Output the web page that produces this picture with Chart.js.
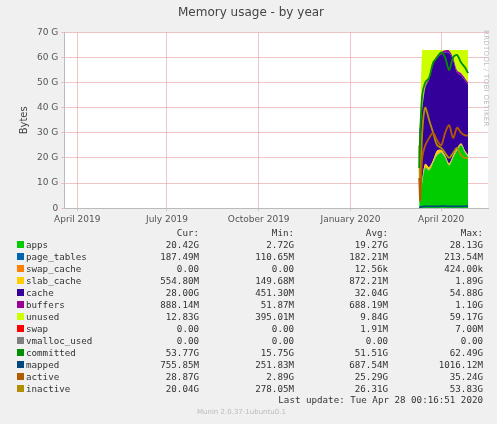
<!DOCTYPE html><html><head><meta charset="utf-8">
<script src="https://cdn.jsdelivr.net/npm/chart.js@4"></script>
<style>
body{margin:0;background:#f0f0f0;width:497px;height:424px;overflow:hidden;font-family:"DejaVu Sans Mono",monospace;}
#wrap{position:absolute;left:0;top:0;width:497px;height:228px;}
#side{position:absolute;left:482px;top:30px;writing-mode:vertical-rl;font-family:"DejaVu Sans";font-size:7px;color:#bbb;letter-spacing:0.3px}
table{position:absolute;left:12px;top:227px;border-collapse:collapse;font-size:9.2px;color:#333;table-layout:fixed}
td{padding:0;height:12px;line-height:12px;white-space:pre;text-align:right;overflow:visible}
td.n{text-align:left;padding-left:2px}
.sw{display:inline-block;width:7px;height:7px;}
#upd{position:absolute;right:14px;top:394px;font-size:9.2px;color:#333;white-space:pre}
#ver{position:absolute;left:197px;top:408px;font-family:"DejaVu Sans";font-size:7px;color:#bbb}
</style></head><body>
<div id="wrap"><canvas id="c" width="497" height="228"></canvas></div>
<div id="side">RRDTOOL / TOBI OETIKER</div>
<table id="leg"><colgroup><col style="width:12px"><col style="width:90px"><col style="width:85px"><col style="width:95px"><col style="width:94px"><col style="width:95px"></colgroup></table>
<div id="upd">Last update: Tue Apr 28 00:16:51 2020</div>
<div id="ver">Munin 2.0.37-1ubuntu0.1</div>
<script>
// days relative to 2020-04-01
const days = [-22,-21,-19,-16,-12,-8,-4,0,4,8,12,16,20,24,27];
const apps =        [3,6,10,16,15,18,21,22,20,17,20,23,25,22,20.4];
const pageTables =  [0.15,0.15,0.17,0.18,0.18,0.19,0.19,0.2,0.2,0.19,0.19,0.19,0.19,0.19,0.19];
const swapCache =   [0,0,0,0,0,0,0,0,0,0,0,0,0,0,0];
const slabCache =   [0.3,0.5,1.2,1.5,1.2,1.0,1.8,1.0,0.8,0.7,0.8,0.7,0.6,0.6,0.55];
const cache =       [28,26,28,30,35,38,37,38,41,44,38,30,27,28,28];
const buffers =     [0.1,0.2,0.5,0.7,0.8,0.8,0.8,0.9,0.9,0.9,0.9,0.9,0.9,0.9,0.89];
const unused =      [1,2,23,14.6,10.8,5,2.2,0.9,0.1,0.2,3.1,8.2,9.3,11.3,13];
const swap =        [0,0,0,0,0,0,0,0,0,0,0,0,0,0,0];
const committed =   [16,30,45,50,52,58,60,62,60,55,60,61,58,56,53.8];
const mapped =      [0.3,0.4,0.6,0.7,0.7,0.7,0.7,0.8,0.8,0.7,0.7,0.7,0.7,0.8,0.76];
const active =      [12,3,20,25,28,30,27,25,30,33,28,32,30,29,28.9];
const inactive =    [25,8,30,40,35,30,25,24,22,20,22,24,21,20,20];
const yTicks = [0,10,20,30,40,50,60,70];
const monthTicks = [{d:-365,l:"April 2019"},{d:-275,l:"July 2019"},{d:-183,l:"October 2019"},{d:-91,l:"January 2020"},{d:0,l:"April 2020"}];
const legendRows = [
 ["apps","#00cc00","20.42G","2.72G","19.27G","28.13G"],
 ["page_tables","#0066b3","187.49M","110.65M","182.21M","213.54M"],
 ["swap_cache","#ff8000","0.00","0.00","12.56k","424.00k"],
 ["slab_cache","#ffcc00","554.80M","149.68M","872.21M","1.89G"],
 ["cache","#330099","28.00G","451.30M","32.04G","54.88G"],
 ["buffers","#990099","888.14M","51.87M","688.19M","1.10G"],
 ["unused","#ccff00","12.83G","395.01M","9.84G","59.17G"],
 ["swap","#ff0000","0.00","0.00","1.91M","7.00M"],
 ["vmalloc_used","#808080","0.00","0.00","0.00","0.00"],
 ["committed","#008f00","53.77G","15.75G","51.51G","62.49G"],
 ["mapped","#00487d","755.85M","251.83M","687.54M","1016.12M"],
 ["active","#b35a00","28.87G","2.89G","25.29G","35.24G"],
 ["inactive","#b38f00","20.04G","278.05M","26.31G","53.83G"]];
let h='<tr><td></td><td></td><td>Cur:</td><td>Min:</td><td>Avg:</td><td>Max:</td></tr>';
for(const r of legendRows){h+=`<tr><td><span class="sw" style="background:${r[1]}"></span></td><td class="n">${r[0]}</td><td>${r[2]}</td><td>${r[3]}</td><td>${r[4]}</td><td>${r[5]}</td></tr>`;}
document.getElementById('leg').insertAdjacentHTML('beforeend',h);

const pts=a=>days.map((d,i)=>({x:d,y:a[i]}));
const area=(lab,col,a,first)=>({label:lab,data:pts(a),backgroundColor:col,borderColor:col,borderWidth:0,pointRadius:0,fill:first?'origin':'-1',stack:'s',tension:0.3,order:2});
const line=(lab,col,a)=>({label:lab,data:pts(a),borderColor:col,backgroundColor:col,borderWidth:1.8,pointRadius:0,fill:false,yAxisID:'y2',tension:0.3,order:1});
const ds=[area('apps','#00cc00',apps,true),area('page_tables','#0066b3',pageTables),area('swap_cache','#ff8000',swapCache),area('slab_cache','#ffcc00',slabCache),area('cache','#330099',cache),area('buffers','#990099',buffers),area('unused','#ccff00',unused),area('swap','#ff0000',swap),
line('committed','#008f00',committed),line('mapped','#00487d',mapped),line('active','#b35a00',active),line('inactive','#b38f00',inactive)];
const bg={id:'bg',beforeDraw(c){const a=c.chartArea,x=c.ctx;x.save();x.fillStyle='#fff';x.fillRect(a.left,a.top,a.right-a.left,a.bottom-a.top);x.restore();}};
const gridC='rgba(230,150,150,0.55)';
new Chart(document.getElementById('c'),{type:'line',data:{datasets:ds},plugins:[bg],
options:{responsive:false,animation:false,layout:{padding:{top:0,right:9,left:14,bottom:0}},
plugins:{legend:{display:false},tooltip:{enabled:false},title:{display:true,text:'Memory usage - by year',color:'#444',font:{family:'DejaVu Sans',size:12,weight:'normal'},padding:{top:6,bottom:12}}},
scales:{
x:{type:'linear',min:-378,max:47,afterBuildTicks(s){s.ticks=monthTicks.map(m=>({value:m.d}));},
 ticks:{autoSkip:false,maxRotation:0,color:'#555',font:{family:'DejaVu Sans',size:9},callback:(v)=>{const m=monthTicks.find(t=>t.d===v);return m?m.l:'';}},
 grid:{color:gridC,tickLength:3},border:{color:'#bbb'}},
y:{stacked:true,min:0,max:70,afterBuildTicks(s){s.ticks=yTicks.map(v=>({value:v}));},
 ticks:{color:'#555',font:{family:'DejaVu Sans',size:9},callback:v=>v===0?'0':v+' G'},
 title:{display:true,text:'Bytes',color:'#444',font:{family:'DejaVu Sans',size:10}},
 grid:{color:gridC,tickLength:3},border:{color:'#bbb'}},
y2:{display:false,min:0,max:70}}}});
</script></body></html>
